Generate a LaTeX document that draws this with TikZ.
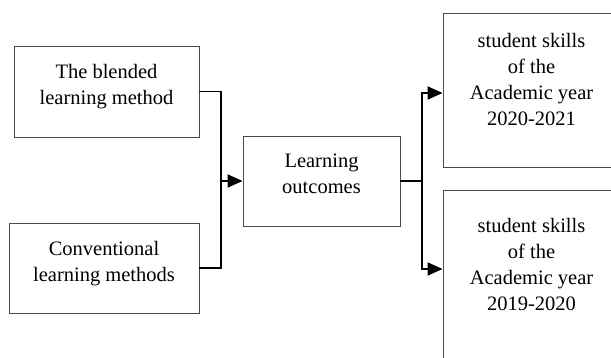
\documentclass[tikz,border=0pt]{standalone}
\usepackage{fontspec}
\setmainfont{Liberation Serif}
\usetikzlibrary{arrows.meta}
\newcommand\rtext[1]{\begin{tabular}{@{}c@{}}#1\\[18pt]\end{tabular}\kern53pt\relax}
\begin{document}
\begin{tikzpicture}[x=1pt,y=-1pt,
  base/.style={draw=black!70,line width=0.9pt,inner sep=0pt,
    font=\fontsize{20.5}{26}\selectfont},
  box/.style={base,align=center,text depth=14pt},
  rbox/.style={base,minimum width=230pt},
  conn/.style={line width=1.8pt,black},
  arr/.style={conn,-{Triangle[length=15pt,width=13pt]}}]
\useasboundingbox (0,0) rectangle (611,358);
\node[box,minimum width=185pt,minimum height=91pt] (b1) at (106.5,91.5) {The blended\\learning method};
\node[box,minimum width=190pt,minimum height=90pt] (b2) at (104,268) {Conventional\\learning methods};
\node[box,minimum width=157pt,minimum height=90pt] (lo) at (321.5,181) {Learning\\outcomes};
\node[rbox,minimum height=154pt] (tr) at (558,90) {\rtext{student skills\\of the\\Academic year\\2020-2021}};
\node[rbox,minimum height=170pt] (br) at (558,275) {\rtext{student skills\\of the\\Academic year\\2019-2020}};
\coordinate (j1) at (221,181);
\coordinate (j2) at (422,181);
\draw[conn] (b1.east) -| (j1);
\draw[conn] (b2.east) -| (j1);
\draw[arr] (j1) -- (lo.west);
\draw[conn] (lo.east) -- (j2);
\draw[arr] (j2) |- ([yshift=-3pt]tr.west);
\draw[arr] (j2) |- ([yshift=6pt]br.west);
\end{tikzpicture}
\end{document}
